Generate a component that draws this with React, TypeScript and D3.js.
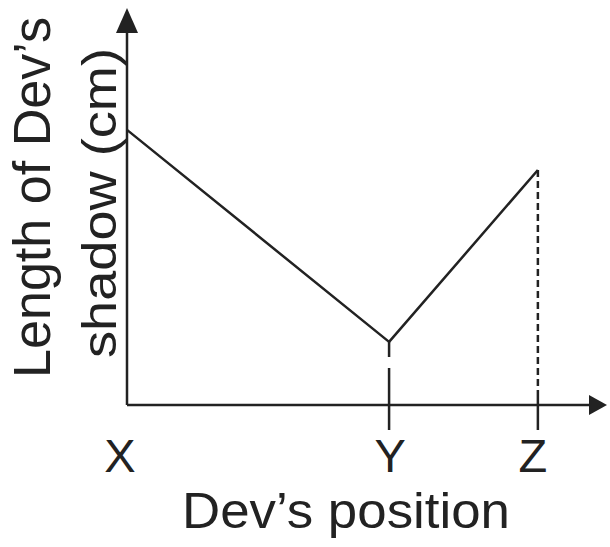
import React from 'react'
import * as d3 from 'd3'

// positions along the walk (0..100) and shadow lengths (0..100)
const points = ['X', 'Y', 'Z']
const positions = [0, 54.6, 85.6]
const shadowLengths = [69.3, 15.9, 59.2]

const xAxisTitle = 'Dev\u2019s position'
const yAxisTitle = ['Length of Dev\u2019s', 'shadow (cm)']

const W = 610
const H = 547
const ink = '#222'
const font = '"Liberation Sans", Arial, Helvetica, sans-serif'

const App = () => {
  const x = d3.scaleLinear().domain([0, 100]).range([127, 607])
  const y = d3.scaleLinear().domain([0, 100]).range([405, 8])

  const data = points.map((p, i) => ({ name: p, pos: positions[i], len: shadowLengths[i] }))
  const line = d3
    .line<{ pos: number; len: number }>()
    .x((d) => x(d.pos))
    .y((d) => y(d.len))

  const x0 = x(0)
  const y0 = y(0)
  const xEnd = x(100)
  const yEnd = y(100)
  const tickBottom = y0 + 25

  const yP = data[1]
  const zP = data[2]

  return (
    <svg width={W} height={H} style={{ position: 'absolute', left: 0, top: 0, background: '#fff' }}>
      {/* axes */}
      <line x1={x0} y1={y0} x2={xEnd - 12} y2={y0} stroke={ink} strokeWidth={2.5} />
      <line x1={x0} y1={y0} x2={x0} y2={yEnd + 14} stroke={ink} strokeWidth={2.5} />
      <path d={`M${xEnd},${y0} L${xEnd - 18},${y0 - 10} L${xEnd - 18},${y0 + 10} Z`} fill={ink} />
      <path d={`M${x0},${yEnd} L${x0 - 11},${yEnd + 25} L${x0 + 11},${yEnd + 25} Z`} fill={ink} />

      {/* Y marker: broken line from vertex down through axis */}
      <line
        x1={x(yP.pos)}
        y1={y(yP.len)}
        x2={x(yP.pos)}
        y2={tickBottom}
        stroke={ink}
        strokeWidth={2.5}
        strokeDasharray="15,11,200"
      />

      {/* Z marker: dashed drop line plus tick */}
      <line
        x1={x(zP.pos)}
        y1={y(zP.len)}
        x2={x(zP.pos)}
        y2={y0 - 12}
        stroke={ink}
        strokeWidth={2.5}
        strokeDasharray="7,4"
      />
      <line x1={x(zP.pos)} y1={y0 - 12} x2={x(zP.pos)} y2={tickBottom} stroke={ink} strokeWidth={2.5} />

      {/* shadow length line */}
      <path d={line(data) ?? ''} fill="none" stroke={ink} strokeWidth={2.5} strokeLinejoin="round" />

      {/* point labels */}
      {data.map((d, i) => (
        <text
          key={d.name}
          x={x(d.pos) + (i === 0 ? -7 : i === 2 ? -5 : 1)}
          y={472}
          textAnchor="middle"
          fontFamily={font}
          fontSize={47}
          fill={ink}
        >
          {d.name}
        </text>
      ))}

      {/* axis titles */}
      <text
        x={182}
        y={528}
        fontFamily={font}
        fontSize={50}
        fill={ink}
        textLength={328}
        lengthAdjust="spacingAndGlyphs"
      >
        {xAxisTitle}
      </text>
      <text
        transform="translate(50,378) rotate(-90)"
        fontFamily={font}
        fontSize={51}
        fill={ink}
        textLength={361}
        lengthAdjust="spacingAndGlyphs"
      >
        {yAxisTitle[0]}
      </text>
      <text
        transform="translate(116,358) rotate(-90)"
        fontFamily={font}
        fontSize={49}
        fill={ink}
        textLength={310}
        lengthAdjust="spacingAndGlyphs"
      >
        {yAxisTitle[1]}
      </text>
    </svg>
  )
}

export default App
